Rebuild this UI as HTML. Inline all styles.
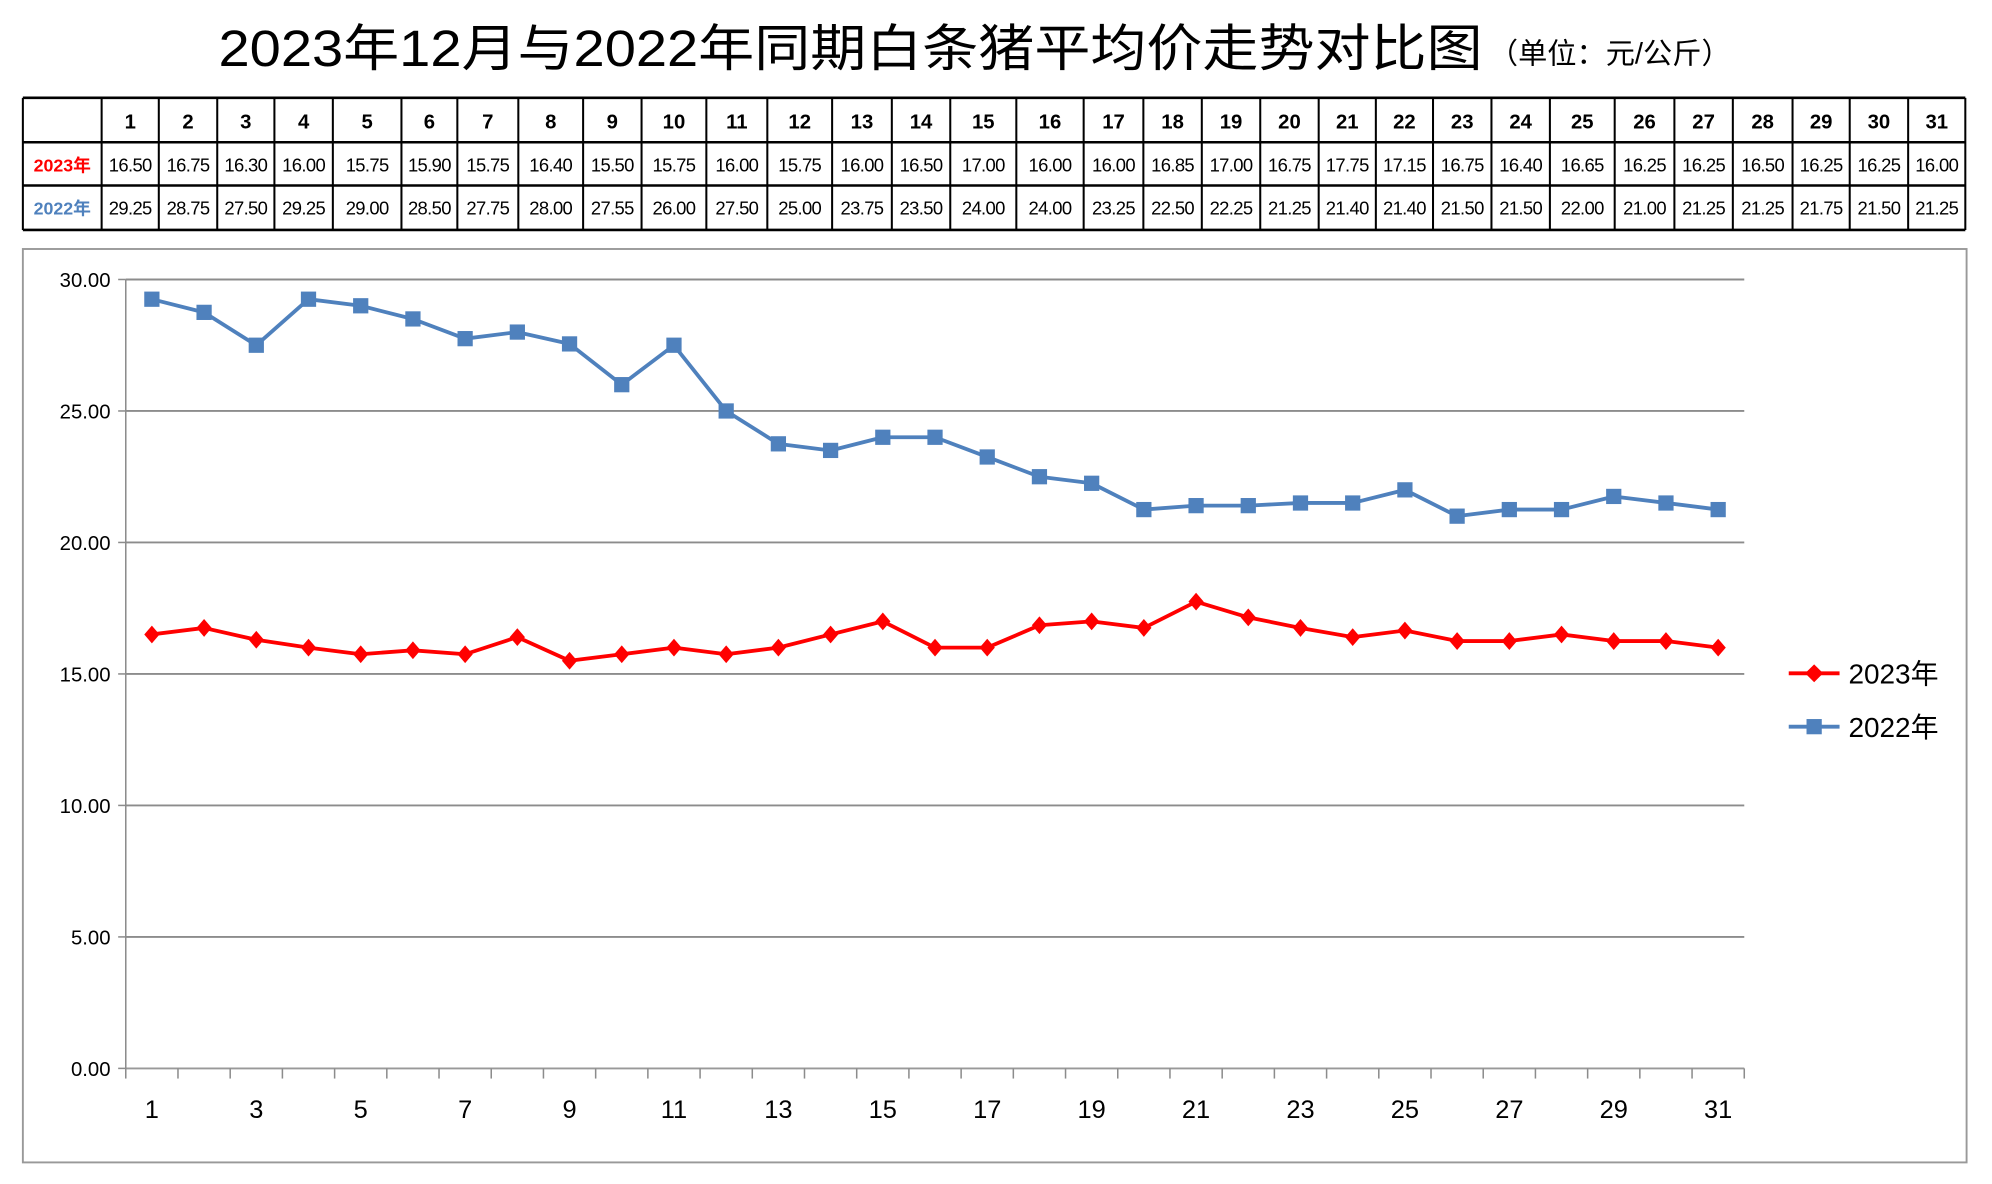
<!DOCTYPE html>
<html><head><meta charset="utf-8"><style>
html,body{margin:0;padding:0;background:#fff}
svg{display:block}
text{font-family:"Liberation Sans","Noto Sans CJK SC",sans-serif}
</style></head><body>
<svg id="s" width="1992" height="1184" viewBox="0 0 1568 932" preserveAspectRatio="none" xmlns="http://www.w3.org/2000/svg">
<text x="172" y="52" font-size="40" fill="#000" textLength="995" lengthAdjust="spacingAndGlyphs">2023年12月与2022年同期白条猪平均价走势对比图</text>
<text x="1172" y="50" font-size="23" fill="#000">（单位：元/公斤）</text>
<g id="table"></g>
<rect x="18" y="196" width="1530" height="719" fill="none" stroke="#999" stroke-width="1.5"/>
<g id="grid"></g>
<g id="series"></g>
<g>
<g><line x1="1408" y1="530" x2="1448" y2="530" stroke="#ff0000" stroke-width="3"/><rect x="1423" y="525" width="10" height="10" fill="#ff0000" transform="rotate(45 1428 530)"/><text x="1455" y="538" font-size="22">2023年</text></g>
<g><line x1="1408" y1="572" x2="1448" y2="572" stroke="#4f81bd" stroke-width="3"/><rect x="1422" y="566" width="12" height="12" fill="#4f81bd"/><text x="1455" y="580" font-size="22">2022年</text></g>
</g>
</svg>
<script>
const days=[1,2,3,4,5,6,7,8,9,10,11,12,13,14,15,16,17,18,19,20,21,22,23,24,25,26,27,28,29,30,31];
const v2023=[16.50,16.75,16.30,16.00,15.75,15.90,15.75,16.40,15.50,15.75,16.00,15.75,16.00,16.50,17.00,16.00,16.00,16.85,17.00,16.75,17.75,17.15,16.75,16.40,16.65,16.25,16.25,16.50,16.25,16.25,16.00];
const v2022=[29.25,28.75,27.50,29.25,29.00,28.50,27.75,28.00,27.55,26.00,27.50,25.00,23.75,23.50,24.00,24.00,23.25,22.50,22.25,21.25,21.40,21.40,21.50,21.50,22.00,21.00,21.25,21.25,21.75,21.50,21.25];
const yTicks=[0,5,10,15,20,25,30];
const NS="http://www.w3.org/2000/svg";
function mk(tag,attrs,parent,txt){const e=document.createElementNS(NS,tag);for(const k in attrs)e.setAttribute(k,attrs[k]);if(txt!==undefined)e.textContent=txt;parent.appendChild(e);return e;}
const X0=99,X1=1373,Y0=841,Y30=220;
const step=(X1-X0)/days.length;
const xs=i=>X0+step*(i+0.5);
const ys=v=>Y0-(v/30)*(Y0-Y30);
// table
const colB=[18,80,125,171,216,262,316,360,408,459,505,556,604,655,702,748,800,853,900,946,992,1038,1083,1128,1174,1220,1271,1318,1364,1411,1456,1502,1547];
const rowB=[77,112,146,181];
const tg=document.getElementById('table');
for(const y of rowB){const l=mk('line',{x1:18,x2:1547,y1:y,y2:y,stroke:'#000','stroke-width':2},tg);}
for(const x of colB){const l=mk('line',{x1:x,x2:x,y1:77,y2:181,stroke:'#000','stroke-width':1.6},tg);}
const l1=mk('text',{x:49,y:135,'font-size':14,'font-weight':'bold',fill:'#ff0000','text-anchor':'middle'},tg,'2023年');


const l2=mk('text',{x:49,y:169,'font-size':14,'font-weight':'bold',fill:'#4f81bd','text-anchor':'middle'},tg,'2022年');


days.forEach((d,i)=>{const cx=(colB[i+1]+colB[i+2])/2;
 const h=mk('text',{x:cx,y:101,'font-size':16,'font-weight':'bold','font-family':'Liberation Serif, serif','text-anchor':'middle'},tg,String(d));
 
 
 const a=mk('text',{x:cx,y:135,'font-size':14.5,'text-anchor':'middle','letter-spacing':'-0.5'},tg,v2023[i].toFixed(2));
 
 
 const b=mk('text',{x:cx,y:169,'font-size':14.5,'text-anchor':'middle','letter-spacing':'-0.5'},tg,v2022[i].toFixed(2));
 
 
});
// grid & axes
const gg=document.getElementById('grid');
yTicks.forEach(t=>{const y=ys(t);
 const gl=mk('line',{x1:X0,x2:X1,y1:y,y2:y,stroke:t===0?'#999':'#8c8c8c','stroke-width':1.5},gg);
 
 
 const tk=mk('line',{x1:X0-6,x2:X0,y1:y,y2:y,stroke:'#8c8c8c','stroke-width':1.2},gg);
 
 
 const lb=mk('text',{x:87,y:y+6,'font-size':16,'text-anchor':'end'},gg,t.toFixed(2));
 
 });
const ya=mk('line',{x1:X0,x2:X0,y1:Y30,y2:Y0,stroke:'#8c8c8c','stroke-width':1.2},gg);


for(let k=0;k<=days.length;k++){const x=X0+step*k;
 const tk=mk('line',{x1:x,x2:x,y1:Y0,y2:Y0+8,stroke:'#8c8c8c','stroke-width':1.2},gg);
 
 }
days.forEach((d,i)=>{if(d%2===1){const lb=mk('text',{x:xs(i),y:880,'font-size':20,'text-anchor':'middle'},gg,String(d));
 
 }});
// series
const sg=document.getElementById('series');
function line(vals,color,name){const pts=vals.map((v,i)=>xs(i).toFixed(1)+','+ys(v).toFixed(1)).join(' ');
 const pl=mk('polyline',{points:pts,fill:'none',stroke:color,'stroke-width':3,'stroke-linejoin':'round'},sg);
 
 }
line(v2022,'#4f81bd','line-2022');
line(v2023,'#ff0000','line-2023');
v2022.forEach((v,i)=>{const r=mk('rect',{x:xs(i)-6,y:ys(v)-6,width:12,height:12,fill:'#4f81bd'},sg);
 
 });
v2023.forEach((v,i)=>{const x=xs(i),y=ys(v);const p=mk('polygon',{points:`${x},${y-7} ${x+6},${y} ${x},${y+7} ${x-6},${y}`,fill:'#ff0000'},sg);
 
 });
</script>
</body></html>
